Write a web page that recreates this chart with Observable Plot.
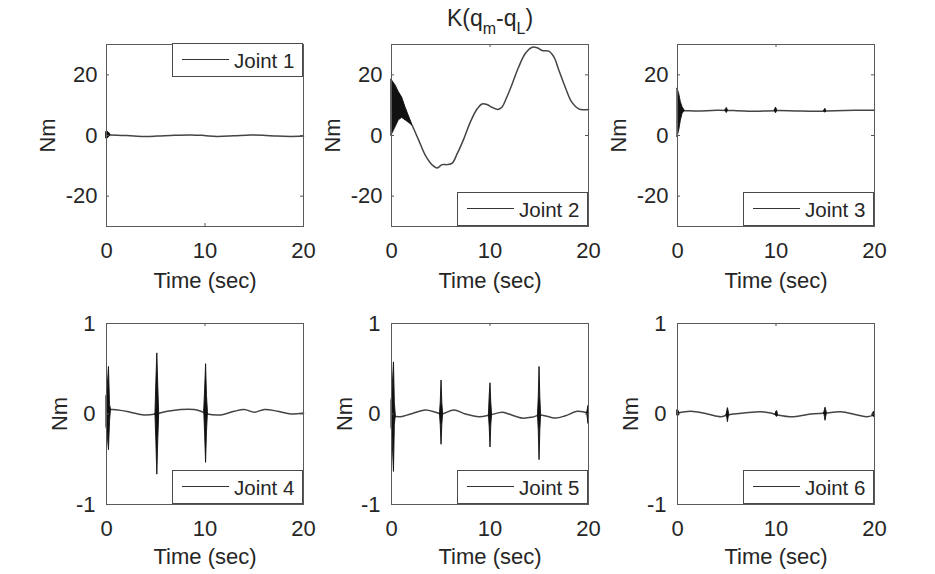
<!DOCTYPE html>
<html><head><meta charset="utf-8">
<script src="https://cdn.jsdelivr.net/npm/d3@7"></script>
<script src="https://cdn.jsdelivr.net/npm/@observablehq/plot@0.6"></script>
<style>
body{margin:0;background:#fff;}
#fig{position:relative;width:935px;height:574px;background:#fff;overflow:hidden;font-family:"Liberation Sans",Arial,Helvetica,sans-serif;color:#262626;}
.panel{position:absolute;}
.legend{position:absolute;width:129px;height:32px;border:1px solid #4a4a4a;background:#fff;}
.legend .ln{position:absolute;left:9px;top:15px;width:47px;height:0;border-top:1.6px solid #333;}
.legend .lt{position:absolute;left:61px;top:0;line-height:33px;font-size:20.5px;color:#262626;white-space:nowrap;}
#title{position:absolute;left:390px;width:200px;top:7px;text-align:center;font-size:23px;line-height:23px;white-space:nowrap;}
#title .sb{font-size:16px;position:relative;top:8px;}
</style></head>
<body><div id="fig"><div id="title">K(q<span class="sb">m</span>-q<span class="sb">L</span>)</div></div>
<script>
// ---- axis ticks & labels ----
const xTicks = [0, 10, 20];
const yTicksTop = [-20, 0, 20];
const yTicksBottom = [-1, 0, 1];
const legendLabels = ["Joint 1", "Joint 2", "Joint 3", "Joint 4", "Joint 5", "Joint 6"];

// ---- Joint 1 ----
const j1T = [0, 0.4, 2.1, 3.8, 5.1, 6.9, 8.6, 9.9, 11.2, 12.9, 14.6, 15.9, 17.3, 18.7, 20];
const j1V = [0.2, 0.2, 0, -0.3, -0.2, 0.1, 0.2, 0, -0.3, -0.1, 0.2, 0.1, -0.2, -0.3, -0.2];
const j1BurstId = [0, 0, 0, 0];
const j1BurstT = [0, 0.1, 0.25, 0.4];
const j1BurstLo = [-1.0, -1.0, -0.6, 0.1];
const j1BurstHi = [1.2, 1.2, 0.9, 0.3];

// ---- Joint 2 ----
const j2T = [0, 0.5, 1, 1.5, 2.1, 2.77, 3.45, 4.3, 4.64, 5.14, 5.65, 6.16, 6.67, 7.34, 8.0, 8.7, 9.2, 9.7, 10.2, 10.8, 11.2, 11.7, 12.25, 12.9, 13.6, 14.3, 14.8, 15.3, 15.97, 16.5, 17.0, 17.7, 18.3, 19.0, 19.5, 20];
const j2V = [9.5, 9.5, 9, 7, 3.3, -1.6, -6.6, -10.2, -10.7, -9.6, -9.6, -9.1, -6, -1.1, 4.4, 8.8, 10.4, 10.2, 9.3, 8.6, 9.3, 12.6, 17, 22.5, 27.1, 29.1, 28.9, 28, 27.8, 25.8, 21.4, 15.4, 11, 8.8, 8.5, 8.6];
const j2BurstId = [0, 0, 0, 0, 0, 0, 0];
const j2BurstT = [0, 0.41, 0.74, 1.08, 1.42, 1.93, 2.1];
const j2BurstLo = [0, 2.7, 5, 5.8, 5, 3.8, 3.3];
const j2BurstHi = [18.4, 16.5, 14.3, 12.5, 9.3, 5, 3.3];

// ---- Joint 3 ----
const j3T = [0, 0.74, 2, 4, 6, 8, 10, 12, 14, 16, 18, 20];
const j3V = [8.2, 8.2, 8.1, 8.3, 8.2, 8.0, 8.2, 8.1, 8.0, 8.2, 8.3, 8.3];
const j3BurstId = [0, 0, 0, 0, 0, 1, 1, 1, 2, 2, 2, 3, 3, 3];
const j3BurstT = [0, 0.17, 0.34, 0.51, 0.74, 4.88, 5.0, 5.12, 9.88, 10.0, 10.12, 14.88, 15.0, 15.12];
const j3BurstLo = [-0.5, 1.6, 4.9, 7.1, 8.2, 8.2, 7.4, 8.2, 8.2, 7.3, 8.2, 8.1, 7.5, 8.1];
const j3BurstHi = [15.4, 13.7, 11, 9.3, 8.2, 8.3, 9.1, 8.3, 8.3, 9.2, 8.3, 8.1, 8.8, 8.1];

// ---- Joint 4 ----
const j4T = [0, 0.58, 1.43, 2.44, 3.8, 4.99, 6.18, 7.54, 8.9, 9.58, 10.25, 11.61, 12.97, 13.99, 15.01, 16.03, 17.39, 18.74, 20];
const j4V = [0.05, 0.05, 0.04, 0.02, -0.01, 0.0, 0.03, 0.05, 0.05, 0.03, 0.0, -0.01, 0.03, 0.05, 0.02, 0.05, 0.03, 0.0, 0.01];
const j4BurstId = [0, 0, 0, 0, 0, 1, 1, 1, 1, 1, 2, 2, 2, 2, 2];
const j4BurstT = [0, 0.08, 0.25, 0.36, 0.46, 4.97, 5.06, 5.16, 5.26, 5.35, 9.92, 10.01, 10.11, 10.2, 10.3];
const j4BurstLo = [-0.15, -0.18, -0.40, -0.08, 0.05, 0, -0.3, -0.67, -0.28, 0, 0.04, -0.22, -0.54, -0.2, 0.02];
const j4BurstHi = [0.2, 0.22, 0.52, 0.1, 0.05, 0, 0.35, 0.67, 0.3, 0, 0.04, 0.26, 0.55, 0.2, 0.02];

// ---- Joint 5 ----
const j5T = [0, 0.91, 1.93, 3.45, 4.47, 5.08, 6.33, 7.51, 8.87, 10.05, 11.24, 11.91, 13.27, 14.28, 15.13, 16.65, 17.66, 18.85, 20];
const j5V = [-0.02, -0.03, 0, 0.045, 0.02, 0, 0.045, 0, -0.03, -0.01, 0.02, 0, -0.045, -0.035, -0.01, -0.045, -0.02, 0.03, 0.01];
const j5BurstId = [0, 0, 0, 0, 0, 1, 1, 1, 1, 1, 2, 2, 2, 2, 2, 3, 3, 3, 3, 3, 4, 4, 4];
const j5BurstT = [0, 0.08, 0.25, 0.34, 0.44, 4.92, 5.0, 5.08, 5.16, 5.24, 9.89, 9.97, 10.05, 10.13, 10.21, 14.87, 14.95, 15.03, 15.11, 15.19, 19.86, 19.93, 20];
const j5BurstLo = [-0.15, -0.2, -0.64, -0.12, -0.02, 0, -0.13, -0.34, -0.12, 0, -0.01, -0.15, -0.37, -0.13, -0.01, -0.01, -0.18, -0.51, -0.18, -0.01, 0.01, -0.05, -0.11];
const j5BurstHi = [0.15, 0.2, 0.57, 0.12, -0.02, 0, 0.13, 0.37, 0.12, 0, -0.01, 0.2, 0.34, 0.13, -0.01, -0.01, 0.18, 0.52, 0.18, -0.01, 0.01, 0.05, 0.09];

// ---- Joint 6 ----
const j6T = [0, 1.35, 3.04, 4.39, 5.14, 6.76, 8.45, 9.46, 10.14, 11.82, 13.51, 15.03, 16.55, 18.24, 19.26, 20];
const j6V = [0.01, 0.03, 0, -0.03, -0.01, 0.01, 0.025, 0.01, -0.01, -0.03, 0, 0.01, 0.025, -0.01, -0.03, -0.01];
const j6BurstId = [0, 0, 0, 1, 1, 1, 1, 1, 2, 2, 2, 2, 3, 3, 3, 3, 3, 4, 4, 4];
const j6BurstT = [0, 0.1, 0.2, 4.98, 5.05, 5.12, 5.19, 5.26, 9.97, 10.05, 10.13, 10.2, 14.89, 14.96, 15.03, 15.1, 15.17, 19.82, 19.9, 20];
const j6BurstLo = [-0.02, -0.025, 0.01, -0.01, -0.04, -0.09, -0.04, -0.01, 0, -0.03, -0.03, -0.01, 0.01, -0.03, -0.075, -0.03, 0.01, -0.01, -0.03, -0.03];
const j6BurstHi = [0.04, 0.035, 0.01, -0.01, 0.03, 0.065, 0.03, -0.01, 0, 0.03, 0.03, -0.01, 0.01, 0.04, 0.07, 0.04, 0.01, -0.01, 0.02, 0.02];

// ---- build tables ----
const rows = (t, v) => t.map((d, i) => ({t: d, v: v[i]}));
const burstRows = (id, t, lo, hi) => t.map((d, i) => ({id: id[i], t: d, lo: lo[i], hi: hi[i]}));

const joints = [
  {line: rows(j1T, j1V), burst: burstRows(j1BurstId, j1BurstT, j1BurstLo, j1BurstHi)},
  {line: rows(j2T, j2V), burst: burstRows(j2BurstId, j2BurstT, j2BurstLo, j2BurstHi)},
  {line: rows(j3T, j3V), burst: burstRows(j3BurstId, j3BurstT, j3BurstLo, j3BurstHi)},
  {line: rows(j4T, j4V), burst: burstRows(j4BurstId, j4BurstT, j4BurstLo, j4BurstHi)},
  {line: rows(j5T, j5V), burst: burstRows(j5BurstId, j5BurstT, j5BurstLo, j5BurstHi)},
  {line: rows(j6T, j6V), burst: burstRows(j6BurstId, j6BurstT, j6BurstLo, j6BurstHi)}
];

// ---- layout ----
const frameLefts = [106, 391, 677];
const rowTops = [44, 323];
const rowHeights = [182, 181];
const FW = 197, ML = 75, MR = 18, MT = 24, MB = 70;
const fig = document.getElementById("fig");
const font = "Liberation Sans, Arial, Helvetica, sans-serif";

joints.forEach((j, k) => {
  const r = Math.floor(k / 3), c = k % 3;
  const fh = rowHeights[r];
  const yDomain = r === 0 ? [-30, 30] : [-1, 1];
  const yTicks = r === 0 ? yTicksTop : yTicksBottom;
  const chart = Plot.plot({
    width: ML + FW + MR,
    height: MT + fh + MB,
    marginLeft: ML, marginRight: MR, marginTop: MT, marginBottom: MB,
    style: {background: "transparent", overflow: "visible", fontFamily: font, fontSize: "22px", color: "#262626"},
    x: {domain: [0, 20], ticks: xTicks, tickSize: 0, tickPadding: 16, tickFormat: d => String(d), label: null},
    y: {domain: yDomain, ticks: yTicks, tickSize: 0, tickPadding: r === 0 ? 9 : 11, tickFormat: d => String(d), label: null},
    marks: [
      Plot.line(j.line, {x: "t", y: "v", curve: "catmull-rom", stroke: "#444", strokeWidth: 1.5}),
      Plot.areaY(j.burst, {x: "t", y1: "lo", y2: "hi", z: "id", fill: "#111", stroke: "#111", strokeWidth: 0.9, strokeLinejoin: "round"}),
      Plot.tickX(xTicks, {x: d => d, stroke: "#555", insetBottom: fh - 3}),
      Plot.tickX(xTicks, {x: d => d, stroke: "#555", insetTop: fh - 3}),
      Plot.tickY(yTicks, {y: d => d, stroke: "#555", insetRight: FW - 3}),
      Plot.tickY(yTicks, {y: d => d, stroke: "#555", insetLeft: FW - 3}),
      Plot.frame({stroke: "#5a5a5a"}),
      Plot.text(["Nm"], {text: d => d, frameAnchor: "left", dx: r === 0 ? -59 : -47, rotate: -90, fontSize: 22, lineAnchor: "middle", textAnchor: "middle", fill: "#262626"}),
      Plot.text(["Time (sec)"], {text: d => d, frameAnchor: "bottom", dy: r === 0 ? 54 : 52, fontSize: 22, lineAnchor: "middle", fill: "#262626"})
    ]
  });
  const wrap = document.createElement("div");
  wrap.className = "panel";
  wrap.style.left = (frameLefts[c] - ML) + "px";
  wrap.style.top = (rowTops[r] - MT) + "px";
  wrap.appendChild(chart);
  fig.appendChild(wrap);

  // legend box
  const lg = document.createElement("div");
  lg.className = "legend";
  const right = frameLefts[c] + FW;
  lg.style.left = (right - 131) + "px";
  if (k === 0) lg.style.top = (rowTops[r] - 1) + "px";
  else lg.style.top = (rowTops[r] + fh - 34) + "px";
  const ln = document.createElement("div"); ln.className = "ln";
  const lt = document.createElement("div"); lt.className = "lt"; lt.textContent = legendLabels[k];
  lg.appendChild(ln); lg.appendChild(lt);
  fig.appendChild(lg);
});
</script></body></html>
